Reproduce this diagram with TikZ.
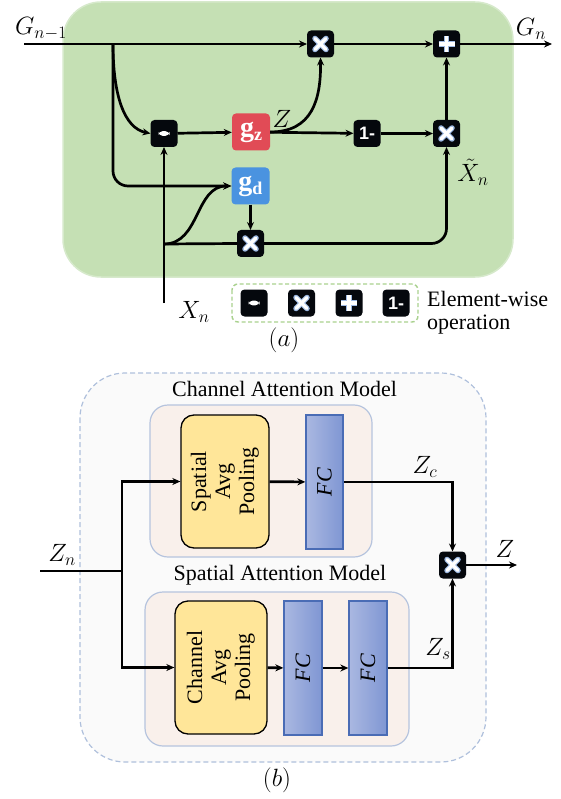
\documentclass[tikz,border=0pt]{standalone}
\usepackage{fix-cm}
\usepackage{fontspec}
\setmainfont{Liberation Serif}
\newfontfamily\sansb{Liberation Sans}
\newfontfamily\serifa{Liberation Serif}
\usetikzlibrary{arrows.meta}
\definecolor{greenbg}{HTML}{C5E0B4}
\definecolor{greenrim}{HTML}{D6E9CB}
\definecolor{legdash}{HTML}{A9D18E}
\definecolor{gzred}{HTML}{E14B56}
\definecolor{gdblue}{HTML}{4A93E0}
\definecolor{opblack}{HTML}{05080D}
\definecolor{glow}{HTML}{9CB8E2}
\definecolor{outerbg}{HTML}{FAFAFA}
\definecolor{outerdash}{HTML}{AFC0DC}
\definecolor{innerbg}{HTML}{F9F0EB}
\definecolor{innerrim}{HTML}{B6C4DE}
\definecolor{poolyel}{HTML}{FFE699}
\definecolor{fcL}{HTML}{AAB8E1}
\definecolor{fcR}{HTML}{7F96D3}
\definecolor{fcrim}{HTML}{4A6CB5}
\newcommand\fsz{\serifa\fontsize{22}{26}\selectfont}
\newcommand\msz{\serifa\fontsize{25}{28}\selectfont}
\newcommand\onefont{\sansb\bfseries\fontsize{18}{18}\selectfont}
\tikzset{
  op/.style={fill=opblack, rounded corners=4pt, minimum size=27pt, inner sep=0pt, outer sep=0pt},
  opx/.style={op, path picture={
    \foreach \c/\w in {glow/5.5pt, white/3.3pt}{
      \draw[\c, line width=\w, line cap=round] (path picture bounding box.center) ++(-5.5pt,-5.5pt) -- ++(11pt,11pt);
      \draw[\c, line width=\w, line cap=round] (path picture bounding box.center) ++(-5.5pt,5.5pt) -- ++(11pt,-11pt);}
  }},
  opp/.style={op, path picture={
    \foreach \c/\w in {glow/5.5pt, white/3.3pt}{
      \draw[\c, line width=\w] (path picture bounding box.center) ++(-8pt,0pt) -- ++(16pt,0pt);
      \draw[\c, line width=\w] (path picture bounding box.center) ++(0pt,-8pt) -- ++(0pt,16pt);}
  }},
  opm/.style={op, path picture={
    \fill[white] (path picture bounding box.center) ++(-5.5pt,-2.3pt) rectangle ++(11pt,4.6pt);
  }},
  opone/.style={op, text=white},
  gbox/.style={rounded corners=4pt, minimum width=38pt, minimum height=37pt, inner sep=0pt, text=white},
  conn/.style={line width=2.7pt, -{Stealth[length=8pt,width=7pt]}},
  plain/.style={line width=2.7pt},
  frame/.style={rounded corners=18pt, fill=innerbg, draw=innerrim, line width=1.2pt},
  pool/.style={draw=black, line width=1.3pt, fill=poolyel, rounded corners=13pt, inner sep=0pt, minimum width=88pt, minimum height=133pt},
  fcbox/.style={draw=fcrim, line width=1.3pt, left color=fcL, right color=fcR, inner sep=0pt, minimum width=37pt, minimum height=134pt},
  lbl/.style={inner sep=0pt},
  ttl/.style={inner sep=0pt},
}
\begin{document}
\begin{tikzpicture}[x=1pt,y=-1pt, font=\fsz]
\useasboundingbox (0,0) rectangle (561,799);
% ---------------- (a) ----------------
\draw[fill=greenbg, draw=greenrim, line width=1.5pt, rounded corners=38pt] (63,2) rectangle (513,277);

\node[opm] (mn) at (164,133.5) {};
\node[opx] (mt) at (320.5,44) {};
\node[opp] (pl) at (446.5,44) {};
\node[opone] (om) at (367,133.5) {\onefont 1-};
\node[opx] (mm) at (446.5,133.5) {};
\node[opx] (mb) at (250.5,243.5) {};
\node[gbox, fill=gzred] (gz) at (251,132) {{\fontsize{28}{28}\selectfont\bfseries g}\raisebox{-4pt}{\fontsize{18}{18}\selectfont\bfseries z}};
\node[gbox, fill=gdblue] (gd) at (250.5,186) {{\fontsize{28}{28}\selectfont\bfseries g}\raisebox{-4pt}{\fontsize{18}{18}\selectfont\bfseries d}};

\coordinate (gin) at (24,44);
\coordinate (gout) at (552,44);
\coordinate (br) at (113,44);
\coordinate (xin) at (164,303);
\coordinate (jx) at (164,244);

\draw[plain] (gin) -- (br);
\draw[conn] (br) -- (mt.west);
\draw[conn] (mt) -- (pl);
\draw[conn] (pl) -- (gout);
\draw[conn] (br) .. controls (113,95) and (124,128) .. (mn.west);
\draw[conn, rounded corners=15pt] (br) |- (gd.west);
\draw[conn] (mn) -- (gz);
\draw[conn] (gz) -- (om);
\draw[conn] (om) -- (mm);
\draw[conn] (gz.east) .. controls (312,132) and (321,100) .. (mt.south);
\draw[conn] (mm) -- (pl);
\draw[conn] (gd) -- (mb);
\draw[conn] (xin) -- (mn.south);
\draw[conn] (jx) .. controls (200,244) and (195,186) .. (gd.west);
\draw[plain] (jx) -- (mb.west);
\draw[conn, rounded corners=15pt] (mb.east) -| (mm.south);

\node[lbl] (lgn1) at (41,29) {\msz $G_{n-1}$};
\node[lbl] (lgn) at (531,29) {\msz $G_n$};
\node[lbl] (lz) at (282,119) {\msz $Z$};
\node[lbl] (lxt) at (473,172) {\msz $\tilde{X}_n$};
\node[lbl] (lxn) at (194,312) {\msz $X_n$};

% legend
\node[anchor=west, inner sep=0pt] (lt) at (427,313) {\fsz\begin{tabular}{@{}l@{}}Element-wise\\[-3pt]operation\end{tabular}};
\draw[legdash, line width=1.4pt, rounded corners=6pt, dash pattern=on 4pt off 2.5pt] (232,284) rectangle (418,322);
\node[opm] (lm) at (254,303) {};
\node[opx] (lx) at (301.5,303) {};
\node[opp] (lp) at (349,303) {};
\node[opone] (l1) at (396,303) {\onefont 1-};
\node[lbl] (cap) at (284,340) {\msz $(a)$};

% ---------------- (b) ----------------
\draw[outerdash, fill=outerbg, dash pattern=on 5pt off 3pt, line width=1.2pt, rounded corners=45pt] (80,373) rectangle (486,762);
\node[ttl] (tca) at (284.5,389) {\fsz Channel Attention Model};
\draw[frame] (150,405) rectangle (372,557);
\node[ttl] (tsa) at (280,575) {\fsz Spatial Attention Model};
\draw[frame] (145,592) rectangle (409,746);

\node[pool] (sap) at (225,481.5) {\rotatebox{90}{\fsz\begin{tabular}{@{}c@{}}Spatial\\[-2pt]Avg\\[-2pt]Pooling\end{tabular}}};
\node[fcbox] (fc1) at (324.5,482) {\rotatebox{90}{\fsz\itshape FC}};
\node[pool, minimum width=92pt] (cap2) at (221,667.5) {\rotatebox{90}{\fsz\begin{tabular}{@{}c@{}}Channel\\[-2pt]Avg\\[-2pt]Pooling\end{tabular}}};
\node[fcbox, minimum width=38pt] (fc2) at (303,668) {\rotatebox{90}{\fsz\itshape FC}};
\node[fcbox, minimum width=38pt] (fc3) at (368,668) {\rotatebox{90}{\fsz\itshape FC}};
\node[opx] (mx) at (452.5,565) {};

\coordinate (zin) at (40,571);
\coordinate (bz) at (122,571);
\coordinate (zout) at (517,565);

\draw[plain] (zin) -- (bz);
\draw[conn] (bz) |- (sap.west);
\draw[conn] (bz) |- (cap2.west);
\draw[conn] (sap) -- (fc1);
\draw[conn] (fc1.east) -| (mx.north);
\draw[conn] (cap2) -- (fc2);
\draw[conn] (fc2) -- (fc3);
\draw[conn] (fc3.east) -| (mx.south);
\draw[conn] (mx) -- (zout);

\node[lbl] (lzc) at (425,467) {\msz $Z_c$};
\node[lbl] (lzo) at (505,549) {\msz $Z$};
\node[lbl] (lzn) at (62,555) {\msz $Z_n$};
\node[lbl] (lzs) at (438,649) {\msz $Z_s$};
\node[lbl] (capb) at (277,780) {\msz $(b)$};
\end{tikzpicture}
\end{document}
